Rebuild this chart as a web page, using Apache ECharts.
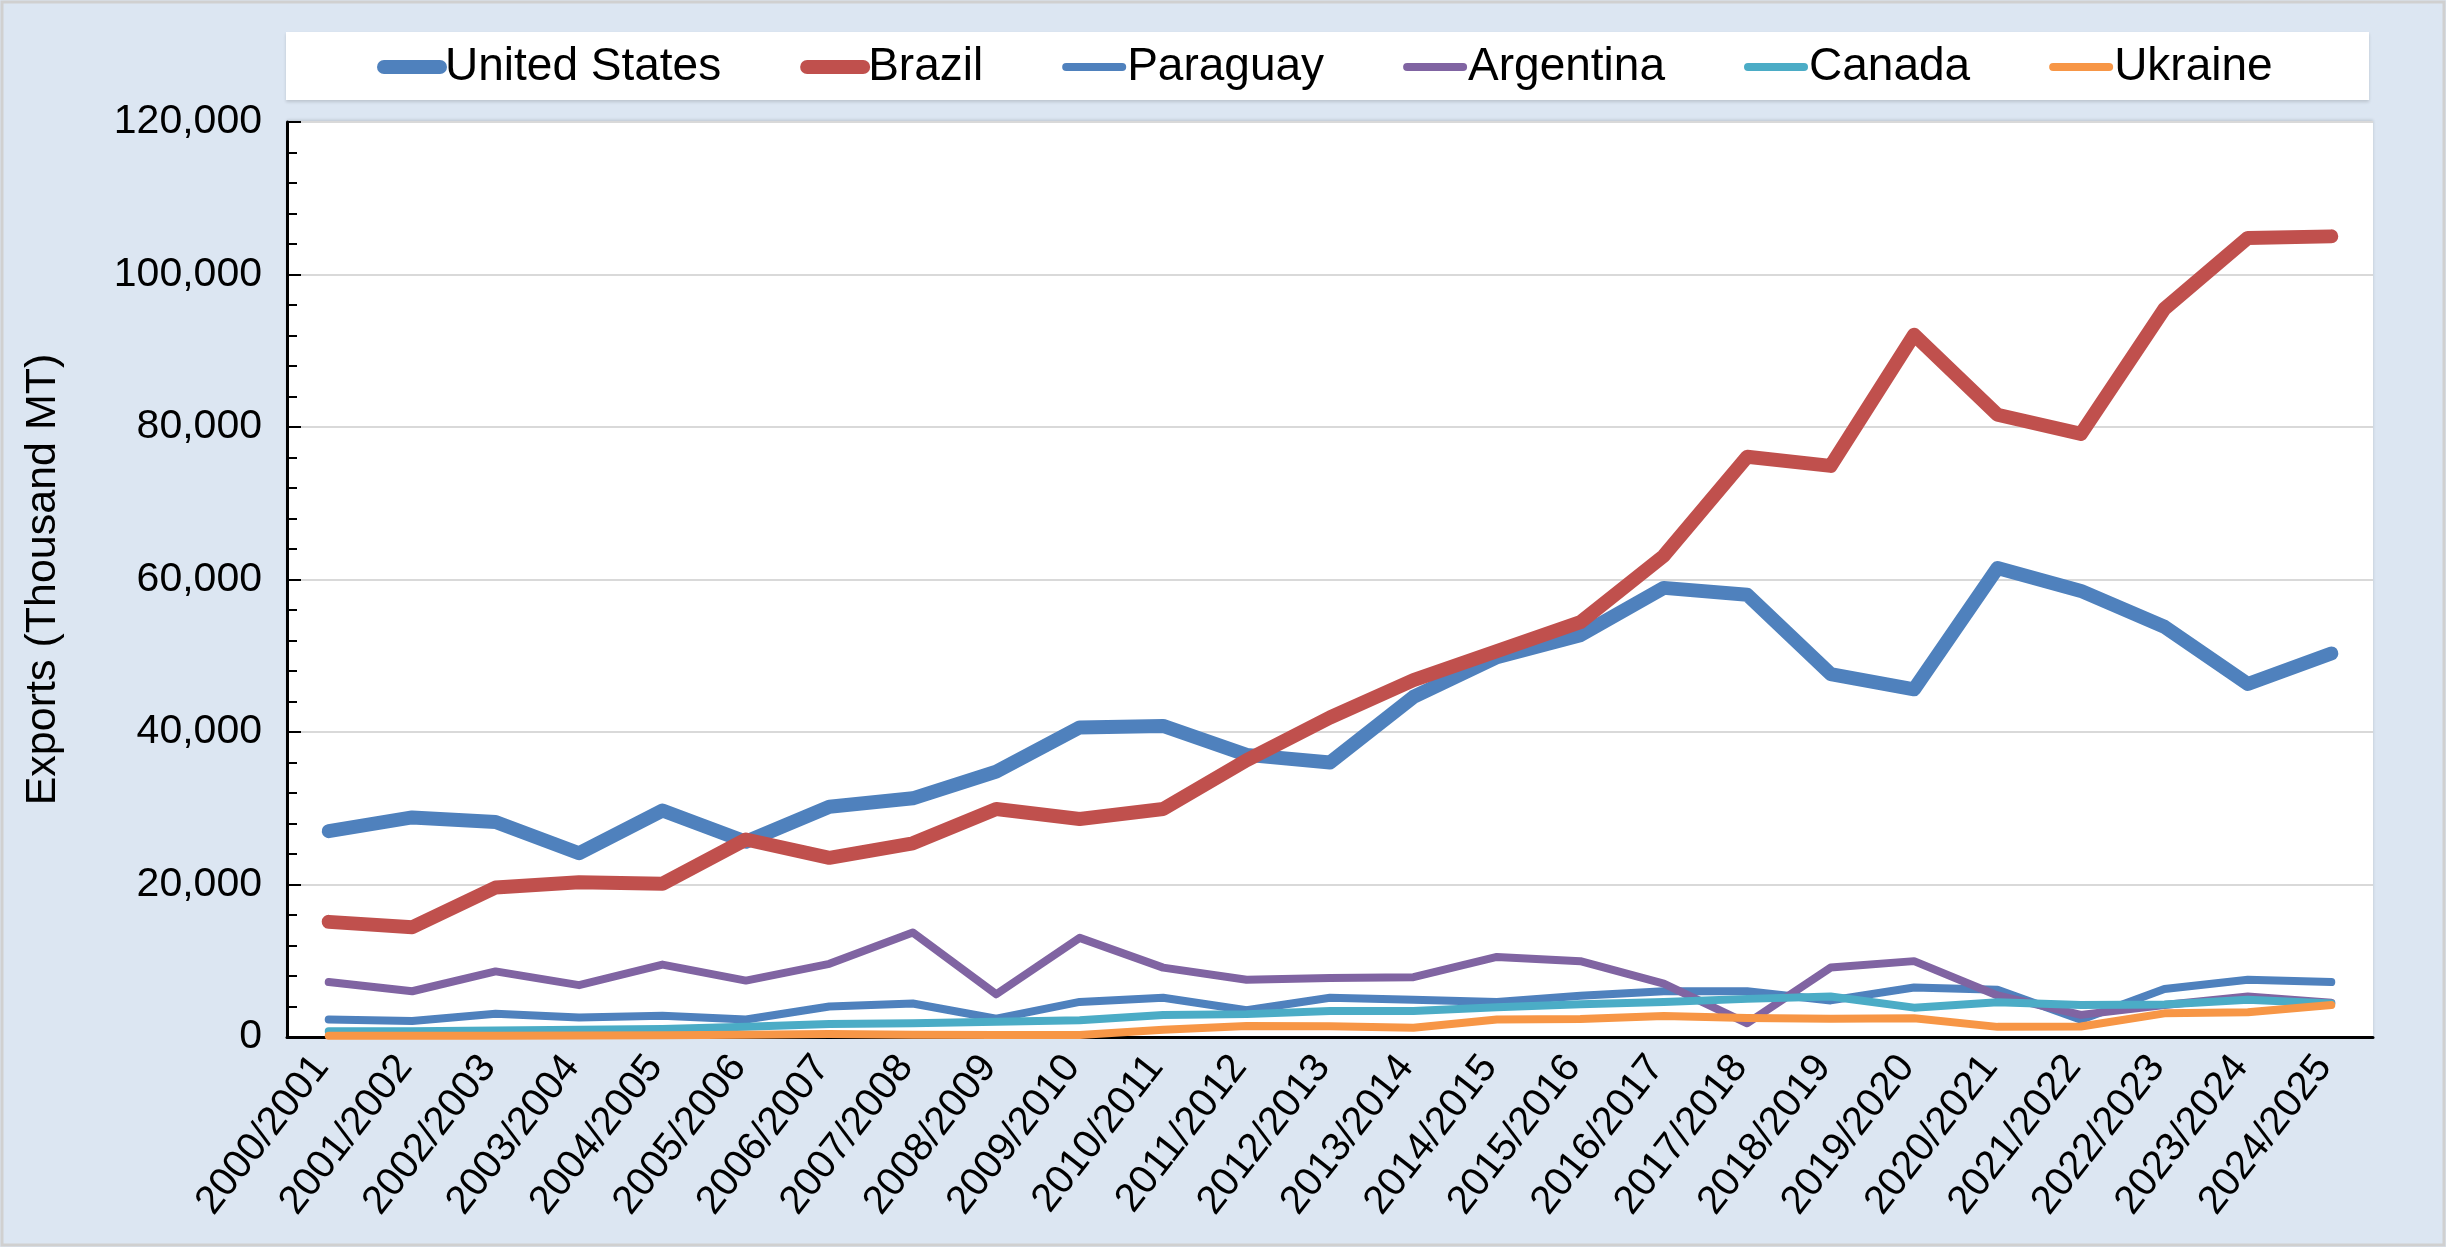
<!DOCTYPE html>
<html>
<head>
<meta charset="utf-8">
<title>Soybean exports</title>
<script src="https://cdn.jsdelivr.net/npm/echarts@6/dist/echarts.min.js"></script>
<style>
  html, body { margin: 0; padding: 0; background: #dce6f2; }
  #chart { width: 2446px; height: 1247px; }
</style>
</head>
<body>
<div id="chart"></div>
<script>
// marketing years on the x axis
const years = [
  '2000/2001', '2001/2002', '2002/2003', '2003/2004', '2004/2005', '2005/2006',
  '2006/2007', '2007/2008', '2008/2009', '2009/2010', '2010/2011', '2011/2012',
  '2012/2013', '2013/2014', '2014/2015', '2015/2016', '2016/2017', '2017/2018',
  '2018/2019', '2019/2020', '2020/2021', '2021/2022', '2022/2023', '2023/2024',
  '2024/2025'
];

// exports, thousand MT
const unitedStates = [27000, 28800, 28200, 24100, 29700, 25600, 30200, 31300, 34800, 40600,
  40800, 37000, 36000, 44600, 49800, 52700, 58900, 58000, 47600, 45600, 61500, 58500, 53800, 46300, 50300];
const brazil = [15100, 14400, 19600, 20300, 20100, 25900, 23500, 25400, 29900, 28600,
  29900, 36300, 41900, 46800, 50600, 54400, 63100, 76100, 74900, 92100, 81600, 79100, 95500, 104800, 105000];
const paraguay = [2300, 2100, 3050, 2550, 2800, 2300, 4000, 4400, 2400, 4600,
  5150, 3500, 5150, 4900, 4600, 5400, 6000, 6000, 4800, 6500, 6200, 2250, 6300, 7500, 7200];
const argentina = [7200, 6000, 8600, 6800, 9500, 7400, 9600, 13700, 5600, 13000,
  9100, 7500, 7750, 7850, 10500, 9950, 7000, 1800, 9100, 9950, 5450, 2900, 4200, 5300, 4500];
const canada = [750, 760, 850, 950, 1050, 1350, 1700, 1800, 2000, 2200,
  2900, 3000, 3400, 3400, 3900, 4300, 4600, 5000, 5300, 3850, 4550, 4200, 4250, 4900, 4400];
const ukraine = [150, 150, 180, 200, 220, 300, 400, 300, 250, 250,
  950, 1450, 1400, 1220, 2300, 2350, 2750, 2500, 2400, 2450, 1330, 1380, 3100, 3250, 4200];

const FONT = "'Liberation Sans', Arial, sans-serif";

const chart = echarts.init(document.getElementById('chart'));

function line(name, data, color, width) {
  return {
    name: name,
    type: 'line',
    data: data,
    symbol: 'none',
    smooth: false,
    lineStyle: { color: color, width: width, cap: 'round', join: 'round' },
    itemStyle: { color: color },
    emphasis: { disabled: true }
  };
}

// legend entry: line only, the circle marker hidden
function legendItem(name, color, width) {
  return {
    name: name,
    itemStyle: { opacity: 0, borderWidth: 0 },
    lineStyle: { color: color, width: width, cap: 'round' }
  };
}

const option = {
  backgroundColor: '#dce6f2',
  animation: false,
  textStyle: { fontFamily: FONT },
  graphic: [
    {
      type: 'rect',
      shape: { x: 2, y: 2, width: 2442, height: 1243 },
      style: { fill: 'none', stroke: '#d0d0d0', lineWidth: 3 },
      silent: true
    },
    {
      type: 'rect',
      z: -1,
      shape: { x: 286, y: 32, width: 2083, height: 68 },
      style: { fill: '#ffffff', shadowColor: 'rgba(0,0,0,0.15)', shadowBlur: 3, shadowOffsetY: 2 },
      silent: true
    }
  ],
  legend: {
    top: 39,
    left: 372,
    itemWidth: 56,
    itemHeight: 14,
    itemGap: 79,
    textStyle: { fontSize: 46, color: '#000', fontFamily: FONT },
    data: [
      legendItem('United States', '#4f81bd', 14),
      legendItem('Brazil', '#c0504d', 14),
      legendItem('Paraguay', '#4f81bd', 8),
      legendItem('Argentina', '#8064a2', 8),
      legendItem('Canada', '#4bacc6', 8),
      legendItem('Ukraine', '#f79646', 8)
    ]
  },
  grid: {
    left: 287,
    right: 73,
    top: 122,
    bottom: 210,
    show: true,
    backgroundColor: '#ffffff',
    borderWidth: 0,
    shadowColor: 'rgba(0,0,0,0.15)',
    shadowBlur: 3,
    shadowOffsetY: -2
  },
  xAxis: {
    type: 'category',
    data: years,
    boundaryGap: true,
    axisLine: { lineStyle: { color: '#000', width: 3 } },
    axisTick: { inside: true, length: 12, lineStyle: { color: '#000', width: 2 } },
    axisLabel: {
      interval: 0,
      rotate: 52,
      margin: 14,
      fontSize: 40,
      color: '#000',
      fontFamily: FONT,
      padding: [0, 12, 24, 0]
    },
    splitLine: { show: false }
  },
  yAxis: {
    type: 'value',
    min: 0,
    max: 120000,
    interval: 20000,
    name: 'Exports (Thousand MT)',
    nameLocation: 'middle',
    nameGap: 222,
    nameTextStyle: { fontSize: 43, color: '#000', fontFamily: FONT },
    axisLine: { show: true, lineStyle: { color: '#000', width: 3 } },
    axisTick: { show: true, inside: true, length: 14, lineStyle: { color: '#000', width: 2 } },
    minorTick: { show: true, splitNumber: 5, length: 10, lineStyle: { color: '#000', width: 2 } },
    axisLabel: {
      margin: 25,
      fontSize: 41,
      color: '#000',
      fontFamily: FONT,
      formatter: function (v) { return v.toLocaleString('en-US'); }
    },
    splitLine: { show: true, lineStyle: { color: '#d9d9d9', width: 2 } }
  },
  series: [
    line('United States', unitedStates, '#4f81bd', 14),
    line('Brazil', brazil, '#c0504d', 14),
    line('Paraguay', paraguay, '#4f81bd', 8),
    line('Argentina', argentina, '#8064a2', 8),
    line('Canada', canada, '#4bacc6', 8),
    line('Ukraine', ukraine, '#f79646', 8)
  ]
};

chart.setOption(option);
</script>
</body>
</html>
